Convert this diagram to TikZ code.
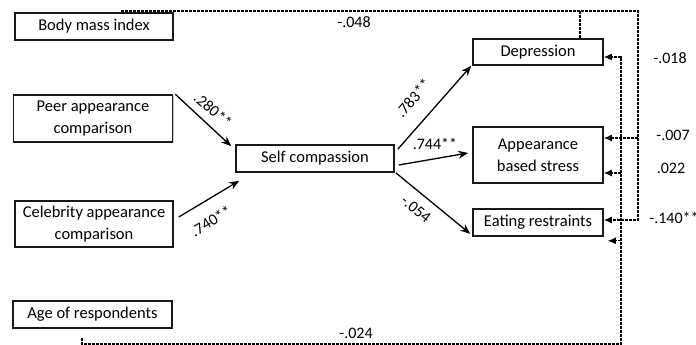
\documentclass[tikz,border=0pt]{standalone}
\usepackage{fontspec}
\setmainfont{Carlito}
\usetikzlibrary{arrows.meta,shadows}

\begin{document}
\begin{tikzpicture}[x=1pt,y=-1pt,
    box/.style={draw=black!90, line width=1.6pt, fill=white, inner sep=0pt, align=center,
      drop shadow={shadow xshift=1.2pt, shadow yshift=-1.2pt, fill=black!40},
      font=\fontsize{16.5}{22}\selectfont},
    pathline/.style={line width=1.3pt, -{Stealth[length=10pt,width=8pt]}},
    cov/.style={dash pattern=on 3pt off 1pt, line width=1.2pt},
    covtip/.style={cov, -{Latex[length=8pt,width=7pt]}},
    coef/.style={font=\fontsize{16}{18}\selectfont, inner sep=1pt}]
    \useasboundingbox (0,0) rectangle (696,345);
    \node[box, minimum width=158pt, minimum height=27pt] (bmi) at (94,26.5) {Body mass index};
    \node[box, minimum width=159pt, minimum height=47pt] (peer) at (93,118.5) {Peer appearance\\comparison};
    \node[box, minimum width=158pt, minimum height=46pt] (celeb) at (94,224) {Celebrity appearance\\comparison};
    \node[box, minimum width=159pt, minimum height=27pt] (age) at (92.5,314.5) {Age of respondents};
    \node[box, minimum width=158pt, minimum height=27pt] (self) at (315,158.5) {Self compassion};
    \node[box, minimum width=130pt, minimum height=26pt] (dep) at (538,52) {Depression};
    \node[box, minimum width=130pt, minimum height=56pt] (stress) at (538,155) {Appearance\\based stress};
    \node[box, minimum width=130pt, minimum height=27pt] (eat) at (538,222.5) {Eating restraints};
    \draw[pathline] ([xshift=2pt]peer.north east) -- ([xshift=-4pt,yshift=-2pt]self.north west);
    \draw[pathline] ([xshift=5pt,yshift=7pt]celeb.east) -- ([xshift=4pt,yshift=-8pt]self.south west);
    \draw[pathline] ([xshift=3pt,yshift=-5pt]self.north east) -- ([xshift=-1pt]dep.south west);
    \draw[pathline] ([xshift=4pt,yshift=-6.5pt]self.east) -- ([xshift=-4pt,yshift=2pt]stress.west);
    \draw[pathline] ([xshift=1pt]self.south east) -- ([xshift=-2pt,yshift=3pt]eat.south west);
    \node[coef, rotate=-41] (c280) at (213,110) {.280**};
    \node[coef, rotate=31] (c740) at (211,221) {.740**};
    \node[coef, rotate=49] (c783) at (413,98) {.783**};
    \node[coef] (c744) at (435,144) {.744**};
    \node[coef, rotate=-39] (c054) at (416,209) {-.054};
    \coordinate (bmitop) at (638,11);
    \coordinate (agebot) at (621,344);
    \coordinate (s1) at ([yshift=17pt]stress.east);
    \coordinate (s2) at ([yshift=-18pt]stress.east);
    \draw[covtip] ([xshift=28pt]bmi.north) |- (bmitop) |- ([yshift=2.5pt]eat.east);
    \draw[cov] ([xshift=42pt]dep.north) -- ([xshift=42pt]dep.north |- bmitop);
    \draw[covtip] (s1 -| bmitop) -- (s1);
    \draw[covtip] ([xshift=-10.5pt,yshift=-9pt]age.south) |- (agebot) |- ([yshift=-5pt]dep.east);
    \draw[covtip] (s2 -| agebot) -- (s2);
    \draw[covtip] ([yshift=-4pt]eat.south east -| agebot) -- ([xshift=4pt,yshift=-4pt]eat.south east);
    \node[coef] (c048) at (354,22) {-.048};
    \node[coef] (c024) at (356,333) {-.024};
    \node[coef] (c018) at (670,58) {-.018};
    \node[coef] (c007) at (673,135) {-.007};
    \node[coef] (c022) at (671,168) {.022};
    \node[coef] (c140) at (674,218) {-.140**};
\end{tikzpicture}
\end{document}
